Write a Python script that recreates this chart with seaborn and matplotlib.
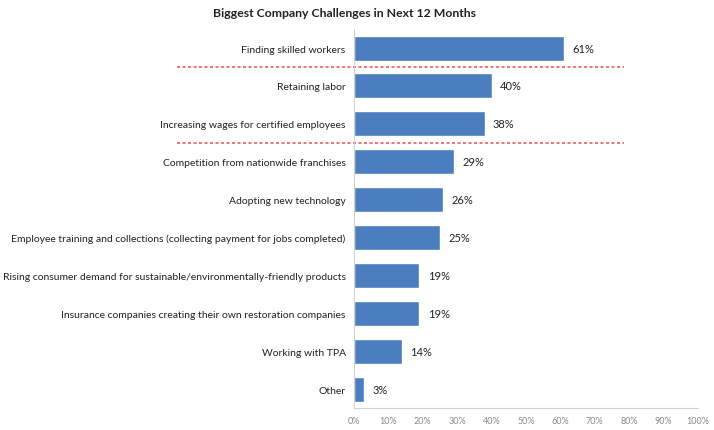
import matplotlib
matplotlib.use("Agg")
import matplotlib.pyplot as plt
import seaborn as sns
import pandas as pd

# -----------------------------
# DATA
# -----------------------------
challenges = [
    "Finding skilled workers",
    "Retaining labor",
    "Increasing wages for certified employees",
    "Competition from nationwide franchises",
    "Adopting new technology",
    "Employee training and collections (collecting payment for jobs completed)",
    "Rising consumer demand for sustainable/environmentally-friendly products",
    "Insurance companies creating their own restoration companies",
    "Working with TPA",
    "Other",
]
percent = [61, 40, 38, 29, 26, 25, 19, 19, 14, 3]
x_ticks = [0, 10, 20, 30, 40, 50, 60, 70, 80, 90, 100]

df = pd.DataFrame({"challenge": challenges, "percent": percent})

# -----------------------------
# PLOT
# -----------------------------
sns.set_style("white")
plt.rcParams["font.family"] = ["Lato", "DejaVu Sans"]

fig = plt.figure(figsize=(7.14, 4.31), dpi=100)
ax = fig.add_axes([0.4958, 0.051, 0.4818, 0.879])

sns.barplot(data=df, x="percent", y="challenge", color="#4a7ebf",
            width=0.66, saturation=1, ax=ax)

for i, v in enumerate(percent):
    ax.text(v + 2.4, i, f"{v}%", va="center", ha="left",
            fontsize=8, color="#222222")

ax.set_xlim(0, 100)
ax.set_ylim(len(challenges) - 0.5, -0.5)
ax.set_xticks(x_ticks)
ax.set_xticklabels([f"{t}%" for t in x_ticks], fontsize=6.5, color="#8a8a8a")
ax.tick_params(axis="y", labelsize=7.5, labelcolor="#222222", length=0, pad=6)
ax.tick_params(axis="x", length=0, pad=6)
ax.set_xlabel("")
ax.set_ylabel("")

for side in ["top", "right"]:
    ax.spines[side].set_visible(False)
ax.spines["left"].set_color("#d0d0d0")
ax.spines["bottom"].set_color("#d0d0d0")
ax.spines["left"].set_linewidth(0.8)
ax.spines["bottom"].set_linewidth(0.8)

# red dashed separators (extend into the label area)
for yline in [0.5, 2.5]:
    ax.plot([-51.5, 78.5], [yline, yline], color="#e8504a", linestyle=(0, (2, 1.6)),
            linewidth=1.1, clip_on=False)

fig.text(0.483, 0.968, "Biggest Company Challenges in Next 12 Months",
         ha="center", va="center", fontsize=8.8, fontweight="bold", color="#222222")

fig.savefig("out.png", dpi=100)
